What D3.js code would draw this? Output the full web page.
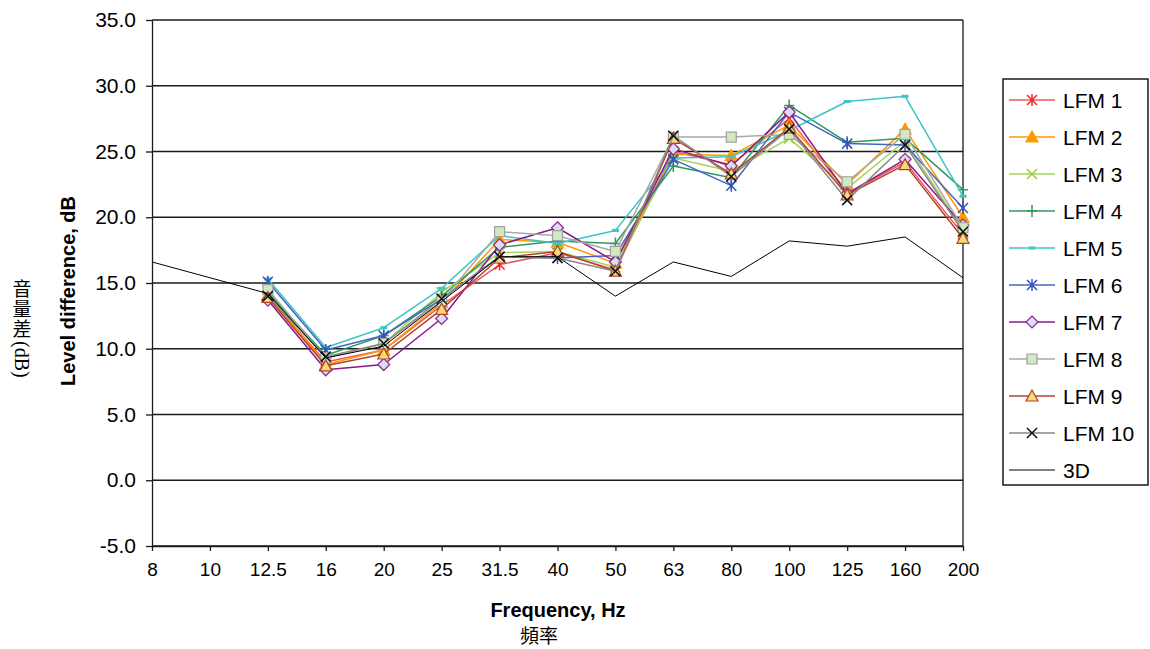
<!DOCTYPE html>
<html>
<head>
<meta charset="utf-8">
<script src="https://cdn.jsdelivr.net/npm/d3@7"></script>
<style>
  body { margin: 0; background: #fff; }
  svg { display: block; }
  text { font-family: "Liberation Sans", Arial, sans-serif; fill: #000; }
</style>
</head>
<body>
<svg id="chart" width="1150" height="649"></svg>
<script>
// Third-octave band centre frequencies (Hz)
const categories = ["8", "10", "12.5", "16", "20", "25", "31.5", "40", "50", "63", "80", "100", "125", "160", "200"];
const yTicks = [-5, 0, 5, 10, 15, 20, 25, 30, 35];

// Level difference (dB) per measurement position
const lfm1  = [null, null, 14.0, 9.0, 9.9, 13.3, 16.4, 17.3, 16.0, 25.0, 24.0, 27.5, 21.8, 24.2, 18.7];
const lfm2  = [null, null, 14.1, 8.8, 9.9, 13.5, 18.3, 18.1, 16.5, 24.8, 24.7, 27.0, 22.5, 26.7, 20.0];
const lfm3  = [null, null, 14.2, 9.3, 10.4, 14.3, 17.3, 17.4, 16.2, 24.5, 23.5, 26.0, 22.2, 25.8, 19.0];
const lfm4  = [null, null, 14.3, 9.5, 11.0, 14.0, 17.7, 18.2, 18.0, 23.9, 23.0, 28.5, 25.7, 26.0, 22.1];
const lfm5  = [null, null, 15.3, 10.1, 11.6, 14.6, 18.6, 18.0, 19.0, 24.5, 24.6, 26.6, 28.8, 29.2, 21.6];
const lfm6  = [null, null, 15.1, 9.9, 11.0, 13.8, 17.0, 16.9, 17.1, 24.4, 22.4, 28.0, 25.6, 25.5, 20.7];
const lfm7  = [null, null, 13.7, 8.4, 8.8, 12.3, 17.9, 19.2, 16.6, 25.2, 23.9, 28.0, 21.8, 24.4, 19.4];
const lfm8  = [null, null, 14.5, 9.3, 10.4, 13.6, 18.9, 18.6, 17.4, 26.1, 26.1, 26.3, 22.7, 26.3, 19.2];
const lfm9  = [null, null, 13.9, 8.7, 9.6, 13.0, 16.9, 17.4, 15.9, 26.0, 23.3, 26.8, 21.7, 24.0, 18.4];
const lfm10 = [null, null, 14.0, 9.4, 10.4, 13.8, 17.0, 16.9, 15.9, 26.2, 23.1, 26.7, 21.3, 25.5, 18.9];
const threeD = [16.6, 15.4, 14.2, 9.3, 10.2, 13.6, 17.0, 17.0, 14.0, 16.6, 15.5, 18.2, 17.8, 18.5, 15.4];

const seriesNames = ["LFM 1", "LFM 2", "LFM 3", "LFM 4", "LFM 5", "LFM 6", "LFM 7", "LFM 8", "LFM 9", "LFM 10", "3D"];
const seriesValues = [lfm1, lfm2, lfm3, lfm4, lfm5, lfm6, lfm7, lfm8, lfm9, lfm10, threeD];

// Line colour, marker shape and marker colours for each series
const styles = [
  { line: "#f2545f", width: 1.5, marker: "asterisk", stroke: "#ee2a2a", fill: "#ee2a2a" },
  { line: "#ff9900", width: 1.5, marker: "triangle", stroke: "#ff9900", fill: "#ff9900" },
  { line: "#a6d45a", width: 1.5, marker: "cross",    stroke: "#9acd32", fill: "none" },
  { line: "#2e9960", width: 1.5, marker: "plus",     stroke: "#2e9960", fill: "none" },
  { line: "#3cc4c8", width: 1.5, marker: "dash",     stroke: "#3cc4c8", fill: "none" },
  { line: "#4466c0", width: 1.5, marker: "asterisk", stroke: "#3355bb", fill: "#3355bb" },
  { line: "#8a1a8a", width: 1.5, marker: "diamond",  stroke: "#8a2a8a", fill: "#dcdcf4" },
  { line: "#a8a8a8", width: 1.5, marker: "square",   stroke: "#a0a0a0", fill: "#d2e8c0" },
  { line: "#b04428", width: 1.5, marker: "triangle", stroke: "#b04428", fill: "#f7d97a" },
  { line: "#888888", width: 1.5, marker: "cross",    stroke: "#111111", fill: "none" },
  { line: "#000000", width: 1.0, marker: null }
];

function markerPath(type) {
  const s = 5;
  switch (type) {
    case "asterisk": return `M${-s},${-s}L${s},${s}M${-s},${s}L${s},${-s}M0,${-s - 1}L0,${s + 1}`;
    case "cross":    return `M${-s},${-s}L${s},${s}M${-s},${s}L${s},${-s}`;
    case "plus":     return `M${-s},0L${s},0M0,${-s - 1}L0,${s + 1}`;
    case "dash":     return `M-3.5,0L3.5,0`;
    case "diamond":  return `M0,${-s - 1}L${s + 1},0L0,${s + 1}L${-s - 1},0Z`;
    case "square":   return `M${-s},${-s}L${s},${-s}L${s},${s}L${-s},${s}Z`;
    case "triangle": return `M0,${-s - 1}L${s + 1},${s}L${-s - 1},${s}Z`;
  }
  return "";
}

function drawMarker(sel, st) {
  sel.append("path")
    .attr("d", markerPath(st.marker))
    .attr("fill", st.fill)
    .attr("stroke", st.stroke)
    .attr("stroke-width", st.marker === "dash" ? 3 : (st.marker === "asterisk" || st.marker === "cross" || st.marker === "plus") ? 1.5 : 1.2);
  if (st.marker === "asterisk") {
    sel.append("rect").attr("x", -1.5).attr("y", -1.5).attr("width", 3).attr("height", 3).attr("fill", st.fill);
  }
}

const svg = d3.select("#chart");
const plotLeft = 152, plotRight = 963, plotTop = 20, plotBottom = 546;

const x = d3.scalePoint().domain(categories).range([plotLeft, plotRight]).padding(0);
const y = d3.scaleLinear().domain([-5, 35]).range([plotBottom, plotTop]);

// Horizontal gridlines
svg.append("g")
  .selectAll("line")
  .data(yTicks)
  .join("line")
  .attr("x1", plotLeft).attr("x2", plotRight)
  .attr("y1", d => y(d)).attr("y2", d => y(d))
  .attr("stroke", "#1a1a1a").attr("stroke-width", 1.3);

// Right frame edge
svg.append("line")
  .attr("x1", plotRight).attr("x2", plotRight).attr("y1", plotTop).attr("y2", plotBottom)
  .attr("stroke", "#1a1a1a").attr("stroke-width", 1.3);

// Y axis (plain hyphen for negative values)
const yAxis = svg.append("g")
  .attr("transform", `translate(${plotLeft},0)`)
  .call(d3.axisLeft(y).tickValues(yTicks).tickFormat(d => d.toFixed(1)).tickSize(6).tickSizeOuter(0).tickPadding(10));
yAxis.select(".domain").attr("stroke", "#1a1a1a").attr("stroke-width", 1.3);
yAxis.selectAll(".tick line").attr("stroke", "#1a1a1a").attr("stroke-width", 1.3);
yAxis.selectAll(".tick text")
  .attr("font-size", 21).attr("fill", "#222")
  .style("font-family", '"Liberation Sans", Arial, sans-serif');

// X axis
const xAxis = svg.append("g")
  .attr("transform", `translate(0,${plotBottom})`)
  .call(d3.axisBottom(x).tickSize(5).tickSizeOuter(0).tickPadding(12));
xAxis.select(".domain").attr("stroke", "#1a1a1a").attr("stroke-width", 1.3);
xAxis.selectAll(".tick line").attr("stroke", "#1a1a1a").attr("stroke-width", 1.3);
xAxis.selectAll(".tick text")
  .attr("font-size", 19).attr("fill", "#222")
  .style("font-family", '"Liberation Sans Narrow", "Liberation Sans", Arial, sans-serif');

// Series lines and markers
const line = d3.line()
  .defined(d => d.v != null)
  .x(d => x(d.c))
  .y(d => y(d.v));

seriesValues.forEach((vals, i) => {
  const st = styles[i];
  const pts = vals.map((v, j) => ({ c: categories[j], v }));
  const g = svg.append("g").attr("class", "series");
  g.append("path")
    .datum(pts)
    .attr("d", line)
    .attr("fill", "none")
    .attr("stroke", st.line)
    .attr("stroke-width", st.width)
    .attr("stroke-linejoin", "round");
  if (st.marker) {
    g.selectAll("g.m")
      .data(pts.filter(d => d.v != null))
      .join("g")
      .attr("class", "m")
      .attr("transform", d => `translate(${x(d.c)},${y(d.v)})`)
      .each(function () { drawMarker(d3.select(this), st); });
  }
});

// Axis titles
svg.append("text")
  .attr("transform", "translate(75,291) rotate(-90)")
  .attr("text-anchor", "middle")
  .attr("font-size", 20).attr("font-weight", "bold")
  .text("Level difference, dB");

svg.append("text")
  .attr("x", 558).attr("y", 617)
  .attr("text-anchor", "middle")
  .attr("font-size", 20).attr("font-weight", "bold")
  .text("Frequency, Hz");

svg.append("text")
  .attr("x", 539).attr("y", 643)
  .attr("text-anchor", "middle")
  .attr("font-size", 19)
  .style("font-family", '"Noto Sans CJK TC", "Noto Sans CJK SC", sans-serif')
  .text("頻率");

// Vertical Chinese caption: ideographs stacked upright, "(dB)" turned clockwise
const cjkLabel = ["音", "量", "差"];
const vLabel = svg.append("g");
vLabel.selectAll("text.cjk")
  .data(cjkLabel)
  .join("text")
  .attr("class", "cjk")
  .attr("x", 22)
  .attr("y", (d, i) => 296 + i * 20)
  .attr("text-anchor", "middle")
  .attr("font-size", 19)
  .style("font-family", '"Noto Sans CJK TC", "Noto Sans CJK SC", sans-serif')
  .text(d => d);
vLabel.append("text")
  .attr("transform", "translate(22,341) rotate(90)")
  .attr("dominant-baseline", "central")
  .attr("font-size", 20)
  .style("font-family", '"Liberation Serif", "Times New Roman", serif')
  .text("(dB)");

// Legend
const legend = svg.append("g");
legend.append("rect")
  .attr("x", 1003).attr("y", 79).attr("width", 145).attr("height", 406)
  .attr("fill", "#fff").attr("stroke", "#1a1a1a").attr("stroke-width", 1.5);

seriesNames.forEach((name, i) => {
  const st = styles[i];
  const cy = 100 + i * 37;
  const row = legend.append("g").attr("transform", `translate(0,${cy})`);
  row.append("line")
    .attr("x1", 1009).attr("x2", 1055).attr("y1", 0).attr("y2", 0)
    .attr("stroke", st.line).attr("stroke-width", st.width);
  if (st.marker) {
    const m = row.append("g").attr("transform", "translate(1032,0)");
    drawMarker(m, st);
  }
  row.append("text")
    .attr("x", 1063).attr("y", 0).attr("dy", "0.36em")
    .attr("font-size", 21).attr("fill", "#111")
    .text(name);
});
</script>
</body>
</html>
